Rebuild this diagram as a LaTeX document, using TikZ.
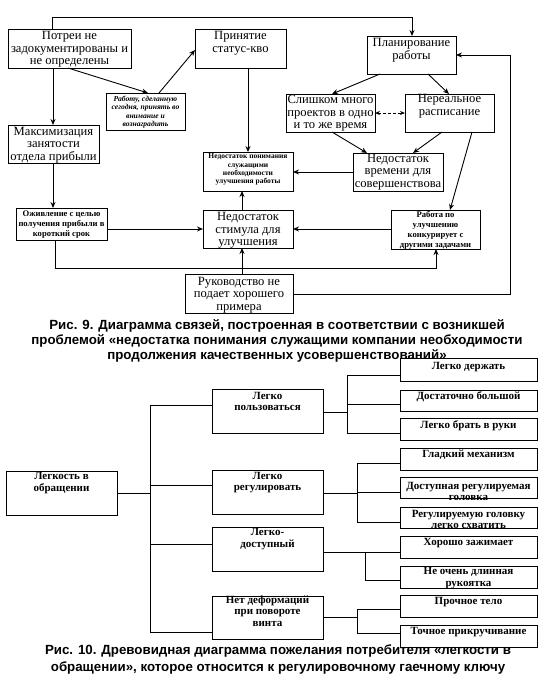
\documentclass[tikz,border=0pt]{standalone}
\usepackage{fontspec}
\setmainfont{Liberation Serif}
\newfontfamily\capfont{Liberation Sans}
\usetikzlibrary{arrows.meta}
\newcommand\mkbox[8]{%
  \node[boxsty, minimum width={(#4-#2)*1pt}, minimum height={(#5-#3)*1pt}] (#1) at ({(#2+#4)/2},{(#3+#5)/2}) {};
  \node[#7] (#1t) at ({(#2+#4)/2},#6) {#8};
}
\tikzset{
  boxsty/.style={draw, line width=1pt, inner sep=0pt, outer sep=0pt, rectangle},
  bigt/.style={font=\fontsize{12.6}{12.6}\selectfont, align=center, inner sep=0pt},
  smallt/.style={font=\fontsize{7.5}{8.3}\selectfont\bfseries, align=center, inner sep=0pt},
  smit/.style={font=\fontsize{7.6}{8.3}\selectfont\bfseries\itshape, align=center, inner sep=0pt},
  midt/.style={font=\fontsize{8.6}{10}\selectfont\bfseries, align=center, inner sep=0pt},
  treet/.style={font=\fontsize{11}{11.5}\selectfont\bfseries, align=center, inner sep=0pt},
  capt/.style={font=\capfont\bfseries\fontsize{13.3}{15}\selectfont, inner sep=0pt},
  arr/.style={line width=0.9pt, -{Stealth[length=6pt,width=5pt]}},
  ln/.style={line width=1pt},
}
\begin{document}
\begin{tikzpicture}[x=1pt,y=-1pt]
\fill[white] (0,0) rectangle (551,678);
\useasboundingbox (0,0) rectangle (551,678);
% ---------- figure 9 ----------
\mkbox{a}{8}{29}{131}{68}{49.5}{bigt}{Потреи не\\задокументированы и\\не определены}
\mkbox{b}{195}{29}{286}{68}{43.5}{bigt}{Принятие\\статус-кво}
\mkbox{c}{106}{93}{185}{130}{112}{smit}{Работу, сделанную\\сегодня, принять во\\внимание и\\вознаградить}
\mkbox{d}{8}{125}{99}{163}{145}{bigt}{Максимизация\\занятости\\отдела прибыли}
\mkbox{e}{203}{152}{293}{191}{169.5}{smallt}{Недостаток понимания\\служащими\\необходимости\\улучшения работы}
\mkbox{f}{203}{210}{293}{248}{230.5}{bigt}{Недостаток\\стимула для\\улучшения}
\mkbox{g}{185}{274}{293}{313}{295}{bigt}{Руководство не\\подает хорошего\\примера}
\mkbox{h}{16}{208}{107}{240}{224.5}{midt}{Оживление с целью\\получения прибыли в\\короткий срок}
\mkbox{i}{391}{210}{480}{249}{230.5}{midt}{Работа по\\улучшению\\конкурирует с\\другими задачами}
\mkbox{j}{353}{153}{443}{191}{172}{bigt}{Недостаток\\времени для\\совершенствова}
\mkbox{k}{367}{36}{456}{74}{50}{bigt}{Планирование\\работы}
\mkbox{l}{286}{94}{375}{132}{113.5}{bigt}{Слишком много\\проектов в одно\\и то же время}
\mkbox{m}{405}{94}{494}{132}{106.5}{bigt}{Нереальное\\расписание}

\draw[arr] (53,0 |- a.south) -- (53,0 |- d.north);
\draw[arr] (68,0 |- a.south) -- (148,0 |- c.north);
\draw[arr] (159,0 |- c.north) -- (b.west |- 0,50);
\draw[arr] (248,0 |- b.south) -- (248,0 |- e.north);
\draw[arr] (53,0 |- d.south) -- (53,0 |- h.north);
\draw[arr] (h.east |- 0,229) -- (f.west |- 0,229);
\draw[arr] (55,0 |- h.south) -- (55,268) -| (436,0 |- i.south);
\draw[arr] (i.west |- 0,229) -- (f.east |- 0,229);
\draw[arr] (242,0 |- f.north) -- (242,0 |- e.south);
\draw[arr] (242,0 |- g.north) -- (242,0 |- f.south);
\draw[arr] (g.east |- 0,294) -- (510,294) -- (510,55) -- (k.east |- 0,55);
\draw[arr] (j.west |- 0,172) -- (e.east |- 0,172);
\draw[arr] (380,0 |- k.south) -- (332,0 |- l.north);
\draw[arr] (428,0 |- k.south) -- (449,0 |- m.north);
\draw[line width=0.9pt, densely dashed, {Stealth[length=5pt,width=4pt]}-{Stealth[length=5pt,width=4pt]}] (l.east |- 0,113) -- (m.west |- 0,113);
\draw[arr] (332,0 |- l.south) -- (367,0 |- j.north);
\draw[arr] (442,0 |- m.south) -- (413,0 |- j.north);
\draw[arr] (472,0 |- m.south) -- (450,0 |- i.north);
\draw[arr] (52,0 |- a.north) -- (52,17) -- (412,17) -- (412,0 |- k.north);

\node[capt] (cap9a) at (277,326) {Рис. 9. Диаграмма связей, построенная в соответствии с возникшей};
\node[capt] (cap9b) at (277,341) {проблемой «недостатка понимания служащими компании необходимости};
\node[capt] (cap9c) at (277,356) {продолжения качественных усовершенствований»};

% ---------- figure 10 ----------
\mkbox{r}{6}{471}{117}{515}{483}{treet}{Легкость в\\обращении}
\mkbox{p1}{212}{389}{323}{433}{401.5}{treet}{Легко\\пользоваться}
\mkbox{p2}{212}{470}{323}{514}{482.5}{treet}{Легко\\регулировать}
\mkbox{p3}{212}{527}{323}{571}{539}{treet}{Легко-\\доступный}
\mkbox{p4}{212}{596}{323}{639}{611}{treet}{Нет деформаций\\при повороте\\винта}
\mkbox{q1}{400}{358}{537}{381}{367}{treet}{Легко держать}
\mkbox{q2}{400}{390}{537}{411}{397}{treet}{Достаточно большой}
\mkbox{q3}{400}{418}{537}{440}{426}{treet}{Легко брать в руки}
\mkbox{q4}{400}{448}{537}{470}{455}{treet}{Гладкий механизм}
\mkbox{q5}{400}{477}{537}{498}{491.5}{treet}{Доступная регулируемая\\головка}
\mkbox{q6}{400}{507}{537}{528}{519.5}{treet}{Регулируемую головку\\легко схватить}
\mkbox{q7}{400}{536}{537}{558}{543}{treet}{Хорошо зажимает}
\mkbox{q8}{400}{566}{537}{588}{578}{treet}{Не очень длинная\\рукоятка}
\mkbox{q9}{400}{595}{537}{617}{602}{treet}{Прочное тело}
\mkbox{q10}{400}{625}{537}{647}{632}{treet}{Точное прикручивание}

\coordinate (trunk) at (150,0);
\draw[ln] (r.east) -- (trunk |- r.east);
\draw[ln] (trunk |- 0,405) -- (trunk |- 0,632);
\draw[ln] (trunk |- 0,405) -- (p1.west |- 0,405);
\draw[ln] (trunk |- 0,485) -- (p2.west |- 0,485);
\draw[ln] (trunk |- 0,544) -- (p3.west |- 0,544);
\draw[ln] (trunk |- 0,632) -- (p4.west |- 0,632);

\draw[ln] (p1.east |- 0,412) -- (347,412);
\draw[ln] (347,375) -- (347,433);
\draw[ln] (347,375) -- (q1.west |- 0,375);
\draw[ln] (347,404) -- (q2.west |- 0,404);
\draw[ln] (347,433) -- (q3.west |- 0,433);

\draw[ln] (p2.east |- 0,493) -- (357,493);
\draw[ln] (357,463) -- (357,522);
\draw[ln] (357,463) -- (q4.west |- 0,463);
\draw[ln] (357,492) -- (q5.west |- 0,492);
\draw[ln] (357,522) -- (q6.west |- 0,522);

\draw[ln] (p3.east |- 0,552) -- (q7.west |- 0,552);
\draw[ln] (365,552) -- (365,580) -- (q8.west |- 0,580);

\draw[ln] (p4.east |- 0,617) -- (357,617);
\draw[ln] (357,609) -- (357,633);
\draw[ln] (357,609) -- (q9.west |- 0,609);
\draw[ln] (357,633) -- (q10.west |- 0,633);

\node[capt] (cap10a) at (278,651) {Рис. 10. Древовидная диаграмма пожелания потребителя «легкости в};
\node[capt] (cap10b) at (278,668) {обращении», которое относится к регулировочному гаечному ключу};
\end{tikzpicture}
\end{document}
